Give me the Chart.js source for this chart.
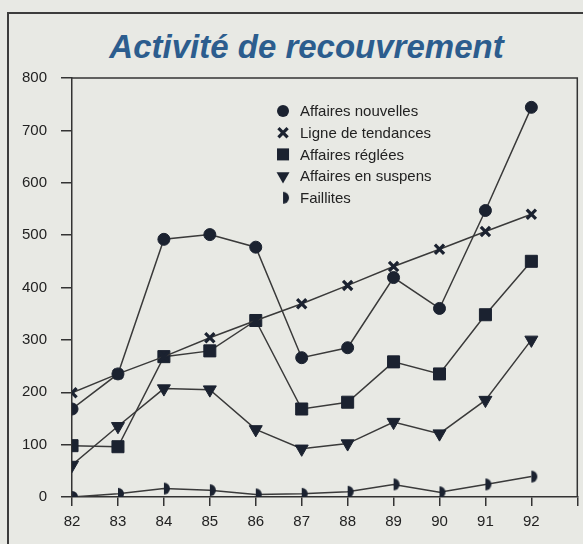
<!DOCTYPE html>
<html lang="fr">
<head>
    <meta charset="UTF-8">
    <title>Activité de recouvrement</title>
    <script src="https://cdn.jsdelivr.net/npm/chart.js"></script>
    <style>
        body {
            margin: 0;
            width: 583px;
            height: 544px;
            overflow: hidden;
            position: relative;
            background: #e8e9e4;
            font-family: "Liberation Sans", Arial, sans-serif;
        }
        .frame {
            position: absolute;
            left: 7px;
            top: 12px;
            width: 640px;
            height: 600px;
            border-left: 2px solid #3c3c3c;
            border-top: 2px solid #3c3c3c;
        }
        .title {
            position: absolute;
            left: 0;
            top: 27px;
            width: 613px;
            margin: 0;
            text-align: center;
            font: italic bold 33px/40px "Liberation Sans", Arial, sans-serif;
            color: #2c5d8e;
        }
        /* a little wider than the window: the plot frame runs to the right edge */
        .chart-box {
            position: absolute;
            left: 0;
            top: 0;
            width: 587px;
            height: 544px;
        }
    </style>
</head>
<body>
    <div class="frame"></div>
    <h1 class="title">Activité de recouvrement</h1>
    <div class="chart-box"><canvas id="recouvrement"></canvas></div>

    <script>
        // values
        const years = [82, 83, 84, 85, 86, 87, 88, 89, 90, 91, 92];
        const affairesNouvelles = [168, 235, 492, 501, 477, 266, 285, 419, 360, 547, 744];
        const ligneTendances = [199, 235, 268, 304, 337, 369, 404, 440, 473, 507, 540];
        const affairesReglees = [98, 96, 268, 279, 337, 168, 181, 258, 235, 348, 450];
        const affairesSuspens = [61, 135, 207, 205, 129, 92, 102, 143, 121, 185, 300];
        const faillites = [0, 6, 16, 13, 5, 6, 10, 24, 9, 24, 39];
        const seriesNames = ['Affaires nouvelles', 'Ligne de tendances', 'Affaires réglées', 'Affaires en suspens', 'Faillites'];

        const ink = '#1b2230';
        const lineColor = '#3a3a3a';

        // right half of a disc, flat side on the point
        function halfDisc(r) {
            const c = document.createElement('canvas');
            c.width = 2 * r + 2;
            c.height = 2 * r + 2;
            const g = c.getContext('2d');
            g.fillStyle = ink;
            g.beginPath();
            g.arc(r + 1, r + 1, r, -Math.PI / 2, Math.PI / 2);
            g.closePath();
            g.fill();
            return c;
        }
        const halfMarker = halfDisc(6);

        function toPoints(values) {
            return years.map((yr, i) => ({ x: yr, y: values[i] }));
        }

        function series(label, values, style, radius, extra) {
            return Object.assign({
                label: label,
                data: toPoints(values),
                borderColor: lineColor,
                borderWidth: 1.5,
                tension: 0,
                pointStyle: style,
                pointRadius: radius,
                pointHoverRadius: radius,
                pointBackgroundColor: ink,
                pointBorderColor: ink,
                pointBorderWidth: 1
            }, extra || {});
        }

        const datasets = [
            series(seriesNames[0], affairesNouvelles, 'circle', 6),
            series(seriesNames[1], ligneTendances, 'crossRot', 6.5, { pointBorderWidth: 3.2 }),
            series(seriesNames[2], affairesReglees, 'rect', 8.5),
            series(seriesNames[3], affairesSuspens, 'triangle', 7.5, { pointRotation: 180 }),
            series(seriesNames[4], faillites, halfMarker, 6)
        ];

        function drawMarker(ctx, ds, x, y) {
            const r = ds.pointRadius;
            ctx.save();
            ctx.fillStyle = ink;
            ctx.strokeStyle = ink;
            ctx.beginPath();
            if (ds.pointStyle === 'circle') {
                ctx.arc(x, y, r, 0, Math.PI * 2);
                ctx.fill();
            } else if (ds.pointStyle === 'crossRot') {
                const d = r * Math.SQRT1_2;
                ctx.lineWidth = ds.pointBorderWidth;
                ctx.moveTo(x - d, y - d); ctx.lineTo(x + d, y + d);
                ctx.moveTo(x + d, y - d); ctx.lineTo(x - d, y + d);
                ctx.stroke();
            } else if (ds.pointStyle === 'rect') {
                const s = r * Math.SQRT1_2;
                ctx.fillRect(x - s, y - s, 2 * s, 2 * s);
            } else if (ds.pointStyle === 'triangle') {
                const w = r * Math.sin(Math.PI / 3);
                ctx.moveTo(x - w, y - r / 2);
                ctx.lineTo(x + w, y - r / 2);
                ctx.lineTo(x, y + r);
                ctx.closePath();
                ctx.fill();
            } else {
                const img = ds.pointStyle;
                ctx.drawImage(img, x - img.width / 2, y - img.height / 2);
            }
            ctx.restore();
        }

        // legend inside the plot + top/right frame of the plot
        const plotExtras = {
            id: 'plotExtras',
            beforeDatasetsDraw(chart) {
                const { ctx, chartArea } = chart;
                ctx.save();
                ctx.strokeStyle = '#333';
                ctx.lineWidth = 1.5;
                ctx.beginPath();
                ctx.moveTo(chartArea.left, chartArea.top);
                ctx.lineTo(chartArea.right, chartArea.top);
                ctx.lineTo(chartArea.right, chartArea.bottom);
                ctx.stroke();
                ctx.restore();
            },
            afterDraw(chart) {
                const { ctx, chartArea } = chart;
                const mx = chartArea.left + 211;
                const y0 = chartArea.top + 33;
                ctx.save();
                ctx.font = '15px "Liberation Sans", Arial, sans-serif';
                ctx.fillStyle = '#222';
                ctx.textBaseline = 'middle';
                chart.data.datasets.forEach((ds, i) => {
                    const y = y0 + i * 21.7;
                    drawMarker(ctx, ds, mx, y);
                    ctx.fillText(ds.label, mx + 17, y + 1);
                });
                ctx.restore();
            }
        };

        const tickFont = { family: '"Liberation Sans", Arial, sans-serif', size: 15 };

        new Chart(document.getElementById('recouvrement'), {
            type: 'line',
            data: { datasets: datasets },
            options: {
                responsive: true,
                maintainAspectRatio: false,
                animation: false,
                layout: { padding: { left: 8, right: 6, top: 78, bottom: 6 } },
                plugins: {
                    legend: { display: false },
                    title: { display: false },
                    tooltip: { enabled: false }
                },
                scales: {
                    x: {
                        type: 'linear',
                        min: 82,
                        max: 93,
                        grid: { drawOnChartArea: false, tickLength: 9, tickColor: '#333', lineWidth: 1.5 },
                        border: { color: '#333', width: 1.5 },
                        ticks: {
                            stepSize: 1,
                            padding: 7,
                            color: '#222',
                            font: tickFont,
                            maxRotation: 0,
                            autoSkip: false,
                            callback: v => (v === 93 ? '' : String(v))
                        }
                    },
                    y: {
                        min: 0,
                        max: 800,
                        grid: { drawOnChartArea: false, tickLength: 11, tickColor: '#333', lineWidth: 1.5 },
                        border: { color: '#333', width: 1.5 },
                        ticks: { stepSize: 100, padding: 14, color: '#222', font: tickFont }
                    }
                }
            },
            plugins: [plotExtras]
        });
    </script>
</body>
</html>
